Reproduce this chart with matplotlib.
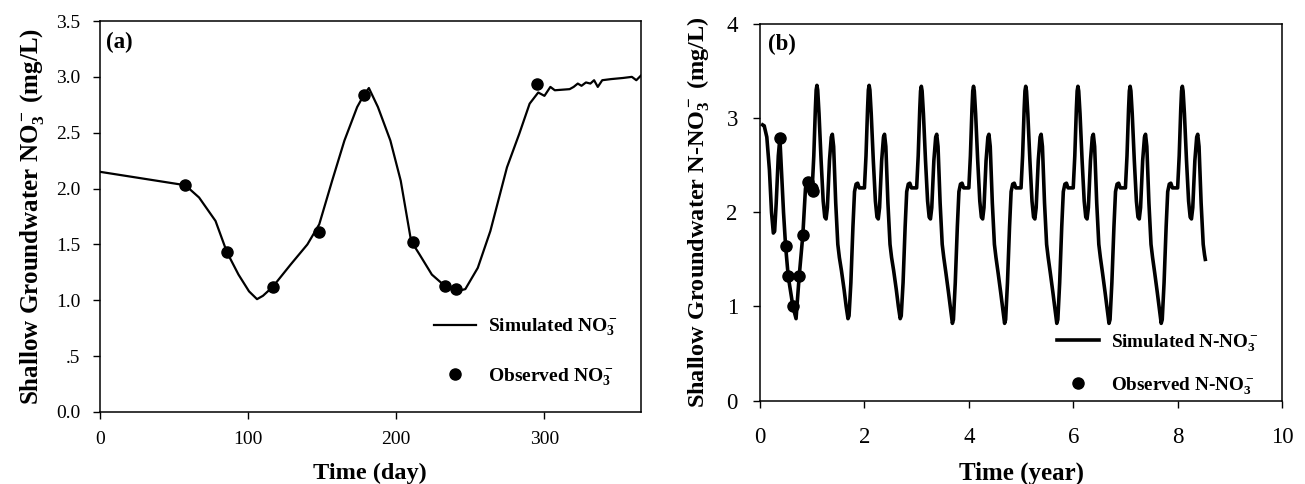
import matplotlib
matplotlib.use('Agg')
import matplotlib.pyplot as plt
from matplotlib.ticker import FuncFormatter

plt.rcParams['font.family'] = ['Liberation Serif', 'DejaVu Serif']
plt.rcParams['mathtext.fontset'] = 'custom'
plt.rcParams['mathtext.rm'] = 'Liberation Serif'
plt.rcParams['mathtext.bf'] = 'Liberation Serif:bold'
plt.rcParams['mathtext.it'] = 'Liberation Serif:italic'

# (a) 一年内逐日模拟与观测
day_sim = [0, 57.6, 66.9, 78, 85.7, 93.5, 100.6, 106, 110, 116.6, 128.7, 140, 148,
           156.7, 165, 173.6, 177.8, 181.5, 187.6, 196, 203, 210, 215.7, 224, 232.6,
           241, 246.6, 255, 263.5, 274.7, 283, 290, 295.8, 300, 304, 307, 317, 319.7,
           322.5, 325, 328, 331, 333.5, 336, 339, 345, 353, 359, 362, 365]
no3_sim = [2.15, 2.03, 1.92, 1.71, 1.43, 1.23, 1.08, 1.01, 1.04, 1.12, 1.32, 1.50, 1.68,
           2.07, 2.43, 2.73, 2.83, 2.90, 2.73, 2.43, 2.07, 1.53, 1.41, 1.23, 1.13,
           1.08, 1.10, 1.29, 1.62, 2.19, 2.49, 2.76, 2.86, 2.83, 2.91, 2.88, 2.89, 2.91,
           2.94, 2.92, 2.95, 2.94, 2.97, 2.91, 2.97, 2.98, 2.99, 3.00, 2.97, 3.01]
day_obs = [57.6, 85.7, 116.6, 147.8, 178, 211, 233, 240, 295]
no3_obs = [2.03, 1.43, 1.12, 1.615, 2.84, 1.525, 1.13, 1.10, 2.94]

# (b) 多年模拟与观测（逐年读取）
year_sim = [0.05, 0.08, 0.13, 0.18, 0.22, 0.255, 0.28, 0.31, 0.35, 0.38, 0.41, 0.45, 0.49, 0.54, 0.63, 0.69,
            0.75, 0.82, 0.87, 0.89, 0.95,
            1.00, 1.03, 1.06, 1.075, 1.09, 1.105, 1.13, 1.17, 1.21, 1.24, 1.265, 1.29, 1.33, 1.365, 1.385, 1.41,
            1.45, 1.49, 1.52, 1.56, 1.61, 1.65, 1.685, 1.705, 1.74, 1.78, 1.81, 1.84, 1.87, 1.90, 1.96,
            2.00, 2.03, 2.06, 2.075, 2.09, 2.105, 2.13, 2.17, 2.21, 2.24, 2.265, 2.29, 2.33, 2.365, 2.385, 2.41,
            2.45, 2.49, 2.52, 2.56, 2.61, 2.65, 2.685, 2.705, 2.74, 2.78, 2.81, 2.84, 2.87, 2.90, 2.96,
            3.00, 3.03, 3.06, 3.075, 3.09, 3.105, 3.13, 3.17, 3.21, 3.24, 3.265, 3.29, 3.33, 3.365, 3.385, 3.41,
            3.45, 3.49, 3.52, 3.56, 3.61, 3.65, 3.685, 3.705, 3.74, 3.78, 3.81, 3.84, 3.87, 3.90, 3.96,
            4.00, 4.03, 4.06, 4.075, 4.09, 4.105, 4.13, 4.17, 4.21, 4.24, 4.265, 4.29, 4.33, 4.365, 4.385, 4.41,
            4.45, 4.49, 4.52, 4.56, 4.61, 4.65, 4.685, 4.705, 4.74, 4.78, 4.81, 4.84, 4.87, 4.90, 4.96,
            5.00, 5.03, 5.06, 5.075, 5.09, 5.105, 5.13, 5.17, 5.21, 5.24, 5.265, 5.29, 5.33, 5.365, 5.385, 5.41,
            5.45, 5.49, 5.52, 5.56, 5.61, 5.65, 5.685, 5.705, 5.74, 5.78, 5.81, 5.84, 5.87, 5.90, 5.96,
            6.00, 6.03, 6.06, 6.075, 6.09, 6.105, 6.13, 6.17, 6.21, 6.24, 6.265, 6.29, 6.33, 6.365, 6.385, 6.41,
            6.45, 6.49, 6.52, 6.56, 6.61, 6.65, 6.685, 6.705, 6.74, 6.78, 6.81, 6.84, 6.87, 6.90, 6.96,
            7.00, 7.03, 7.06, 7.075, 7.09, 7.105, 7.13, 7.17, 7.21, 7.24, 7.265, 7.29, 7.33, 7.365, 7.385, 7.41,
            7.45, 7.49, 7.52, 7.56, 7.61, 7.65, 7.685, 7.705, 7.74, 7.78, 7.81, 7.84, 7.87, 7.90, 7.96,
            8.00, 8.03, 8.06, 8.075, 8.09, 8.105, 8.13, 8.17, 8.21, 8.24, 8.265, 8.29, 8.33, 8.365, 8.385, 8.41,
            8.45, 8.49, 8.515, 8.53]
no3_sim_b = [2.93, 2.92, 2.80, 2.45, 2.00, 1.78, 1.80, 2.10, 2.60, 2.79, 2.45, 2.00, 1.64, 1.32, 1.00, 0.87,
             1.32, 1.76, 2.25, 2.32, 2.27,
             2.26, 2.60, 3.10, 3.30, 3.35, 3.30, 3.05, 2.55, 2.12, 1.95, 1.93, 2.05, 2.55, 2.80, 2.83, 2.70,
             2.10, 1.66, 1.52, 1.38, 1.18, 1.00, 0.87, 0.90, 1.25, 1.85, 2.22, 2.30, 2.31, 2.26, 2.26,
             2.26, 2.60, 3.10, 3.30, 3.35, 3.30, 3.05, 2.55, 2.12, 1.95, 1.93, 2.05, 2.55, 2.80, 2.83, 2.70,
             2.10, 1.66, 1.52, 1.38, 1.18, 1.00, 0.87, 0.90, 1.25, 1.85, 2.22, 2.30, 2.31, 2.26, 2.26,
             2.26, 2.60, 3.10, 3.29, 3.34, 3.29, 3.05, 2.55, 2.12, 1.95, 1.93, 2.05, 2.55, 2.80, 2.83, 2.70,
             2.10, 1.66, 1.52, 1.36, 1.15, 0.97, 0.82, 0.86, 1.25, 1.85, 2.22, 2.30, 2.31, 2.26, 2.26,
             2.26, 2.60, 3.10, 3.29, 3.34, 3.29, 3.05, 2.55, 2.12, 1.95, 1.93, 2.05, 2.55, 2.80, 2.83, 2.70,
             2.10, 1.66, 1.52, 1.36, 1.15, 0.97, 0.82, 0.86, 1.25, 1.85, 2.22, 2.30, 2.31, 2.26, 2.26,
             2.26, 2.60, 3.10, 3.29, 3.34, 3.29, 3.05, 2.55, 2.12, 1.95, 1.93, 2.05, 2.55, 2.80, 2.83, 2.70,
             2.10, 1.66, 1.52, 1.36, 1.15, 0.97, 0.82, 0.86, 1.25, 1.85, 2.22, 2.30, 2.31, 2.26, 2.26,
             2.26, 2.60, 3.10, 3.29, 3.34, 3.29, 3.05, 2.55, 2.12, 1.95, 1.93, 2.05, 2.55, 2.80, 2.83, 2.70,
             2.10, 1.66, 1.52, 1.36, 1.15, 0.97, 0.82, 0.86, 1.25, 1.85, 2.22, 2.30, 2.31, 2.26, 2.26,
             2.26, 2.60, 3.10, 3.29, 3.34, 3.29, 3.05, 2.55, 2.12, 1.95, 1.93, 2.05, 2.55, 2.80, 2.83, 2.70,
             2.10, 1.66, 1.52, 1.36, 1.15, 0.97, 0.82, 0.86, 1.25, 1.85, 2.22, 2.30, 2.31, 2.26, 2.26,
             2.26, 2.60, 3.10, 3.29, 3.34, 3.29, 3.05, 2.55, 2.12, 1.95, 1.93, 2.05, 2.55, 2.80, 2.83, 2.70,
             2.10, 1.66, 1.55, 1.50]
year_obs = [0.38, 0.49, 0.54, 0.63, 0.75, 0.82, 0.91, 0.99, 1.01]
no3_obs_b = [2.79, 1.64, 1.32, 1.00, 1.32, 1.76, 2.32, 2.26, 2.23]

xticks_a = [0, 100, 200, 300]
yticks_a = [0.0, 0.5, 1.0, 1.5, 2.0, 2.5, 3.0, 3.5]
xticks_b = [0, 2, 4, 6, 8, 10]
yticks_b = [0, 1, 2, 3, 4]


def fmt_a(v, pos):
    s = f"{v:.1f}"
    if s.startswith("0.") and s != "0.0":
        s = s[1:]   # 原图 0.5 写作 .5
    return s


fig = plt.figure(figsize=(13.05, 4.84), dpi=100)
ax1 = fig.add_axes([0.0766, 0.1488, 0.4144, 0.8078])
ax2 = fig.add_axes([0.5824, 0.1725, 0.4000, 0.7775])

# 图 (a)
ax1.plot(day_sim, no3_sim, color='black', lw=1.6, label=r'Simulated $\mathbf{NO_3^-}$')
ax1.plot(day_obs, no3_obs, 'o', color='black', ms=8, label=r'Observed $\mathbf{NO_3^-}$')
ax1.set_xlim(0, 365)
ax1.set_ylim(0, 3.5)
ax1.set_xticks(xticks_a)
ax1.set_yticks(yticks_a)
ax1.yaxis.set_major_formatter(FuncFormatter(fmt_a))
ax1.tick_params(direction='out', length=5, width=1, labelsize=14, pad=9,
                top=False, right=False)
ax1.set_xlabel('Time (day)', fontsize=17.5, fontweight='bold', labelpad=10)
ax1.set_ylabel(r'Shallow Groundwater $\mathbf{NO_3^-}$ (mg/L)', fontsize=18,
               fontweight='bold', labelpad=7)
ax1.text(0.011, 0.944, '(a)', transform=ax1.transAxes, fontsize=16.5,
         fontweight='bold', va='center', ha='left')
ax1.legend(loc='upper left', bbox_to_anchor=(0.6, 0.268), frameon=False,
           handlelength=2.15, handletextpad=0.6, labelspacing=1.43,
           borderpad=0, prop={'size': 14, 'weight': 'bold'})

# 图 (b)
ax2.plot(year_sim, no3_sim_b, color='black', lw=2.6, label=r'Simulated N-$\mathbf{NO_3^-}$')
ax2.plot(year_obs, no3_obs_b, 'o', color='black', ms=8, label=r'Observed N-$\mathbf{NO_3^-}$')
ax2.set_xlim(0, 10)
ax2.set_ylim(0, 4)
ax2.set_xticks(xticks_b)
ax2.set_yticks(yticks_b)
ax2.tick_params(direction='out', length=5, width=1, labelsize=16.5,
                top=False, right=False)
ax2.tick_params(axis='x', pad=14)
ax2.tick_params(axis='y', pad=11)
ax2.set_xlabel('Time (year)', fontsize=18, fontweight='bold', labelpad=10)
ax2.set_ylabel(r'Shallow Groundwater N-$\mathbf{NO_3^-}$ (mg/L)', fontsize=17.5,
               fontweight='bold', labelpad=10)
ax2.text(0.016, 0.945, '(b)', transform=ax2.transAxes, fontsize=16.5,
         fontweight='bold', va='center', ha='left')
ax2.legend(loc='upper left', bbox_to_anchor=(0.55, 0.207), frameon=False,
           handlelength=2.2, handletextpad=0.65, labelspacing=1.12,
           borderpad=0, prop={'size': 13.8, 'weight': 'bold'})

for ax in (ax1, ax2):
    for sp in ax.spines.values():
        sp.set_linewidth(1.1)

fig.savefig('out.png', dpi=100)
